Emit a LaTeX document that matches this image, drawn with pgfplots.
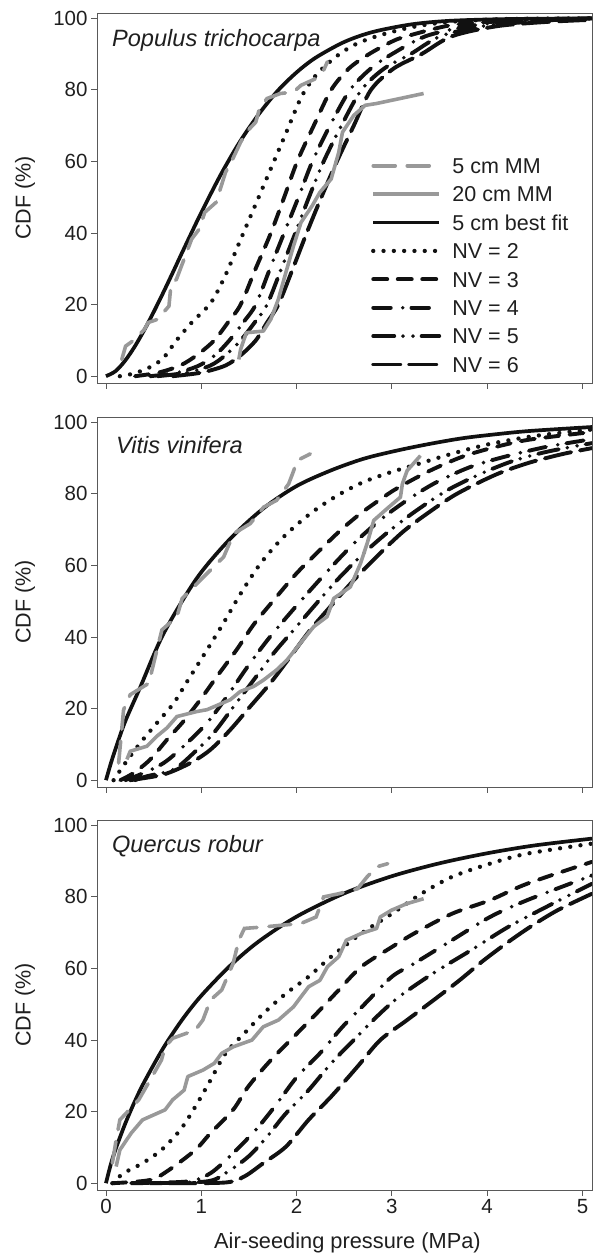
\documentclass[border=0pt]{standalone}
\usepackage{pgfplots}
\pgfplotsset{compat=1.18}
\usepackage{fontspec}
\setmainfont{Liberation Sans}
\definecolor{mmgray}{HTML}{999999}
\definecolor{ink}{HTML}{111111}
\tikzset{
 mm5/.style={mmgray, line width=3.6pt, line cap=round, dash pattern=on 22pt off 12pt},
 mm20/.style={mmgray, line width=3.6pt, line join=round},
 bfit/.style={ink, line width=3.7pt},
 nv2/.style={ink, line width=4.3pt, line cap=round, dash pattern=on 0pt off 10.3pt},
 nv3/.style={ink, line width=3.9pt, line cap=round, dash pattern=on 14pt off 10.5pt},
 nv4/.style={ink, line width=3.9pt, line cap=round, dash pattern=on 17.5pt off 12pt on 0pt off 8.7pt},
 nv5/.style={ink, line width=3.9pt, line cap=round, dash pattern=on 21pt off 8.7pt on 0pt off 10pt on 0pt off 8.7pt},
 nv6/.style={ink, line width=3.9pt, line cap=round, dash pattern=on 27pt off 9pt},
 sptitle/.style={anchor=west, inner sep=0pt, font=\fontsize{23.6}{28}\selectfont\itshape, text=black!88},
}
\pgfplotsset{
 myaxis/.style={
  scale only axis, width=495pt, height=370pt, anchor=south west,
  xmin=-0.094, xmax=5.1, ymin=-1.9, ymax=101.5,
  xtick={0,1,2,3,4,5}, ytick={0,20,40,60,80,100},
  tick align=outside, tickpos=left, major tick length=6pt,
  axis line style={black!65, line width=0.9pt},
  every tick/.style={black!65, line width=0.9pt},
  ticklabel style={font=\fontsize{20.5}{24}\selectfont, text=black!88},
  /pgf/number format/assume math mode=true,
  ylabel={CDF (\%)},
  ylabel style={at={(axis description cs:-0.1455,0.5)}, anchor=center, font=\fontsize{21.5}{25}\selectfont, text=black!88},
  xlabel style={font=\fontsize{21.8}{26}\selectfont, text=black!88},
 },
}
\begin{document}
\begin{tikzpicture}
\useasboundingbox (0pt,0pt) rectangle (593pt,1254pt);
% ---------------- Panel 1: Populus trichocarpa
\begin{axis}[myaxis, at={(97pt,871pt)}, xticklabels={},
  legend style={at={(axis cs:2.78,61.6)}, anchor=north west, draw=none, fill=none, inner sep=0pt,
    row sep=8.9pt, column sep=9pt, font=\fontsize{21.5}{26}\selectfont,
    nodes={text height=15.5pt, text depth=0pt, inner sep=2pt, text=black!88}},
  legend cell align=left,
  legend image code/.code={\draw[#1] (0pt,0pt) -- (66pt,0pt);}]
\addlegendimage{mm5}\addlegendentry{5 cm MM}
\addlegendimage{mm20}\addlegendentry{20 cm MM}
\addlegendimage{bfit}\addlegendentry{5 cm best fit}
\addlegendimage{nv2}\addlegendentry{NV = 2}
\addlegendimage{nv3}\addlegendentry{NV = 3}
\addlegendimage{nv4}\addlegendentry{NV = 4}
\addlegendimage{nv5}\addlegendentry{NV = 5}
\addlegendimage{nv6}\addlegendentry{NV = 6}
\addplot[bfit, smooth, forget plot] coordinates {(0,0) (0.1,1.4) (0.2,4.3) (0.3,8.2) (0.4,12.8) (0.5,17.9) (0.6,23.3) (0.7,28.9) (0.8,34.6) (0.9,40.2) (1.0,45.7) (1.2,56.1) (1.4,65.3) (1.6,73.1) (1.8,79.7) (2.0,84.9) (2.2,89) (2.5,93.4) (2.8,96.2) (3.2,98.3) (3.6,99.3) (4.2,99.8) (5.1,100)};
\addplot[nv2, smooth, forget plot] coordinates {(0.146,0) (0.30,0.8) (0.46,2.5) (0.60,5) (0.74,10) (0.90,15) (1.10,20.5) (1.25,28) (1.41,38) (1.57,48) (1.73,58) (1.89,68) (2.05,78) (2.20,84) (2.40,89) (2.60,92.5) (2.84,95) (3.20,97.5) (3.60,99) (4.20,99.8) (5.10,100)};
\addplot[nv3, smooth, forget plot] coordinates {(0.305,0) (0.55,1) (0.78,3) (0.96,6) (1.136,10) (1.28,15) (1.413,20) (1.57,30) (1.73,40) (1.87,50) (2.007,60) (2.18,70) (2.363,80) (2.55,86) (2.76,90) (3.0,93.5) (3.155,95) (3.6,98) (4.03,99) (4.6,99.7) (5.1,100)};
\addplot[nv4, smooth, forget plot] coordinates {(0.463,0) (0.75,1) (0.978,3) (1.15,6) (1.295,10) (1.44,15) (1.572,20) (1.72,30) (1.869,40) (2.02,50) (2.166,60) (2.35,70) (2.561,80) (2.78,86) (3.0,90) (3.353,95) (3.8,97.8) (4.22,99) (4.7,99.7) (5.1,100)};
\addplot[nv5, smooth, forget plot] coordinates {(0.542,0) (0.85,1) (1.097,3) (1.26,6) (1.413,10) (1.56,15) (1.69,20) (1.84,30) (1.987,40) (2.13,50) (2.284,60) (2.47,70) (2.68,80) (2.92,86) (3.195,90) (3.51,95) (3.95,97.8) (4.42,99) (4.8,99.7) (5.1,100)};
\addplot[nv6, smooth, forget plot] coordinates {(0.70,0) (1.0,1) (1.255,3) (1.42,6) (1.572,10) (1.69,15) (1.809,20) (1.96,30) (2.106,40) (2.26,50) (2.423,60) (2.60,70) (2.78,80) (3.02,86) (3.31,90) (3.63,95) (4.1,97.8) (4.62,99) (5.1,99.6)};
\addplot[mm20, forget plot] coordinates {(1.394,4.67) (1.413,7.5) (1.473,12.15) (1.651,12.6) (1.73,15.9) (1.809,21.5) (1.888,29) (1.968,36.4) (2.047,43) (2.166,47.7) (2.245,51.4) (2.363,55.1) (2.443,62.6) (2.482,68.2) (2.601,72.9) (2.72,75.7) (2.838,76.2) (3.333,79)};
\addplot[mm5, forget plot] coordinates {(0.166,4.67) (0.206,8.4) (0.305,10.3) (0.404,13.1) (0.443,15.0) (0.542,15.9) (0.661,19.6) (0.681,25.2) (0.74,27.1) (0.899,38.3) (0.978,41.1) (1.037,45.8) (1.156,48.6) (1.255,57) (1.314,59.8) (1.413,65.4) (1.473,68.2) (1.572,71) (1.611,74.8) (1.69,77.6) (1.829,79) (1.968,79.4) (2.047,81.3) (2.205,83.2) (2.284,85.5) (2.324,87.9)};
\node[sptitle] at (rel axis cs:0.03,0.927) {Populus trichocarpa};
\end{axis}
% ---------------- Panel 2: Vitis vinifera
\begin{axis}[myaxis, at={(97pt,467pt)}, xticklabels={}]
\addplot[bfit, smooth] coordinates {(0,0) (0.05,4.6) (0.1,8.7) (0.2,16.3) (0.36,26) (0.605,41) (0.955,56.5) (1.305,67.5) (1.654,76) (2.0,82.2) (2.354,86.5) (2.70,89.8) (3.05,92.1) (3.40,94) (3.75,95.6) (4.10,96.7) (4.45,97.6) (5.1,98.7)};
\addplot[nv2, smooth] coordinates {(0.08,0) (0.203,4.8) (0.36,10.4) (0.535,16) (0.71,21.5) (0.85,27.5) (1.06,36.4) (1.235,44) (1.41,52) (1.62,60.5) (1.864,68) (2.144,74.5) (2.424,79.5) (2.70,83.3) (2.98,86) (3.23,88) (3.6,91) (4.0,93.8) (4.5,96.2) (5.1,98)};
\addplot[nv3, smooth] coordinates {(0.15,0) (0.29,2) (0.465,5.8) (0.64,11.3) (0.815,16.5) (0.99,22.5) (1.165,29) (1.375,36.6) (1.55,43.5) (1.76,50.3) (2.0,57.8) (2.214,63.5) (2.46,69.8) (2.67,74.5) (2.88,78.5) (3.05,81.5) (3.40,86.5) (3.75,90.5) (4.10,93.2) (4.45,95.2) (5.1,97.3)};
\addplot[nv4, smooth] coordinates {(0.2,0) (0.36,1.6) (0.605,4.8) (0.815,9.5) (1.06,16) (1.27,23.4) (1.48,31.5) (1.69,39) (1.90,45.7) (2.144,53.1) (2.39,60.3) (2.634,67) (2.914,73.5) (3.19,78.8) (3.47,83.3) (3.82,87.5) (4.17,90.3) (4.63,93.2) (5.1,95.3)};
\addplot[nv5, smooth] coordinates {(0.3,0) (0.43,1.1) (0.71,3) (0.92,7.6) (1.13,13.2) (1.34,20.6) (1.55,28) (1.76,35.5) (1.97,42) (2.18,48.5) (2.424,55.9) (2.70,63.3) (2.98,69.8) (3.26,75.4) (3.58,81) (3.93,85.6) (4.28,89.3) (4.63,91.8) (5.1,94.2)};
\addplot[nv6, smooth] coordinates {(0.25,0) (0.605,1.6) (0.885,4.8) (1.095,8.5) (1.305,14.1) (1.514,20.6) (1.724,27.1) (1.934,34.5) (2.144,42) (2.354,48.5) (2.60,55.9) (2.88,63.5) (3.12,69.5) (3.37,74.5) (3.68,80) (4.10,85.5) (4.45,88.8) (4.80,91.2) (5.1,92.8)};
\addplot[mm20] coordinates {(0.22,5.8) (0.255,8.1) (0.43,9.5) (0.535,12.3) (0.64,14.6) (0.745,17.8) (0.955,19.2) (1.06,19.7) (1.305,22.5) (1.41,24.8) (1.55,26.2) (1.654,28) (1.79,30.8) (1.90,33.6) (2.04,38.3) (2.18,42.9) (2.32,45.7) (2.39,50.8) (2.564,54) (2.67,60.5) (2.74,66.1) (2.81,72.6) (2.95,75.9) (3.09,79.1) (3.11,82.8) (3.16,86.5) (3.30,90.7)};
\addplot[mm5] coordinates {(0.133,4.8) (0.185,19.7) (0.255,23.9) (0.45,27.1) (0.535,36.4) (0.587,42) (0.745,45.7) (0.80,50.8) (0.92,54) (1.095,58.7) (1.235,62.4) (1.34,68.9) (1.514,71.7) (1.654,76.3) (1.79,78.2) (1.917,82.8) (1.97,86.5) (2.004,89.3) (2.144,91.2)};
\node[sptitle] at (rel axis cs:0.038,0.924) {Vitis vinifera};
\end{axis}
% ---------------- Panel 3: Quercus robur
\begin{axis}[myaxis, at={(97pt,64pt)}, xlabel={Air-seeding pressure (MPa)},
  xlabel style={at={(axis description cs:0.506,-0.143)}, anchor=center}]
\addplot[bfit, smooth] coordinates {(0,0) (0.05,5.2) (0.1,9.4) (0.2,16.5) (0.3,22.7) (0.4,28.2) (0.6,37.7) (0.8,45.7) (1.0,52.4) (1.3,60.7) (1.6,67.5) (2.0,74.5) (2.5,81) (3.0,85.8) (3.5,89.4) (4.0,92.2) (4.5,94.4) (5.1,96.3)};
\addplot[nv2, smooth] coordinates {(0.067,0) (0.186,2.8) (0.384,5.6) (0.582,9.3) (0.78,14.9) (0.938,21.4) (1.097,28.8) (1.255,36.3) (1.453,41.9) (1.651,47.4) (1.888,53) (2.126,57.7) (2.363,63.3) (2.68,69.8) (3.0,75.3) (3.31,80.9) (3.63,85.6) (4.03,89.3) (4.42,92.1) (5.1,94.9)};
\addplot[nv3, smooth] coordinates {(0.067,0) (0.463,0.9) (0.661,3.7) (0.938,9.3) (1.097,14) (1.334,20.5) (1.493,27) (1.73,34.4) (2.007,41.9) (2.245,48.4) (2.443,54) (2.68,60.5) (3.0,66) (3.234,69.8) (3.63,75.3) (4.03,79.1) (4.42,83.7) (5.1,89.8)};
\addplot[nv4, smooth] coordinates {(0.265,0) (0.859,0.5) (1.097,2.8) (1.334,8.4) (1.572,14.9) (1.77,21.4) (2.007,29.8) (2.245,36.3) (2.482,43.7) (2.72,50.2) (3.0,57.7) (3.234,61.4) (3.63,67.9) (4.03,74.4) (4.42,79.1) (5.1,86)};
\addplot[nv5, smooth] coordinates {(0.463,0) (1.057,0.5) (1.255,2.8) (1.493,7.4) (1.69,13) (1.888,19.5) (2.126,26) (2.363,33.5) (2.6,40) (2.84,46.5) (3.076,52.1) (3.43,58.6) (3.83,65.1) (4.22,71.6) (4.62,77.2) (5.1,83.7)};
\addplot[nv6, smooth] coordinates {(0.661,0) (1.255,0.2) (1.453,1.9) (1.651,5.6) (1.888,10.2) (2.126,17.7) (2.363,24.2) (2.64,32.6) (2.878,40) (3.155,45.5) (3.43,51) (3.7,56.5) (3.95,62) (4.2,67) (4.45,71.6) (4.74,76.3) (5.1,80.9)};
\addplot[mm20] coordinates {(0.107,4.65) (0.146,9.3) (0.265,14) (0.384,17.7) (0.62,20.5) (0.70,23.3) (0.82,26) (0.859,29.8) (1.017,31.6) (1.136,33.5) (1.215,36.3) (1.334,38.1) (1.532,40) (1.65,43.7) (1.81,45.6) (1.968,49.3) (2.047,52.1) (2.126,54.9) (2.245,56.7) (2.324,60.5) (2.443,63.3) (2.522,67.9) (2.68,69.8) (2.84,71.2) (2.878,74.4) (2.997,76.3) (3.155,78.1) (3.333,79.5)};
\addplot[mm5] coordinates {(0.067,5.6) (0.107,12.1) (0.146,17.7) (0.245,20.5) (0.344,23.3) (0.463,28.8) (0.582,34.4) (0.62,38.1) (0.70,40.5) (0.938,42.8) (1.017,45.6) (1.097,51.2) (1.215,54) (1.334,61.4) (1.394,67.9) (1.453,71.2) (1.65,71.6) (2.047,72.6) (2.205,74.4) (2.284,80) (2.443,80.9) (2.64,82.3) (2.74,85.6) (2.84,88.4) (2.957,89.3)};
\node[sptitle] at (rel axis cs:0.03,0.928) {Quercus robur};
\end{axis}
\end{tikzpicture}
\end{document}
